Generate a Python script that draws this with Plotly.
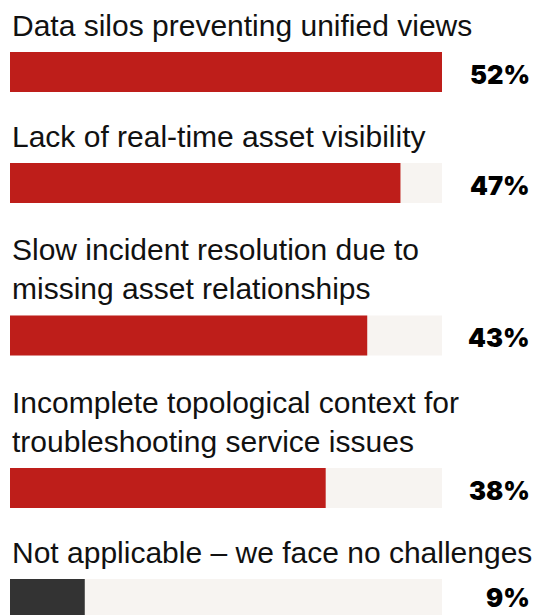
import plotly.graph_objects as go

# ---- data ----
label_lines = [
    ["Data silos preventing unified views"],
    ["Lack of real-time asset visibility"],
    ["Slow incident resolution due to", "missing asset relationships"],
    ["Incomplete topological context for", "troubleshooting service issues"],
    ["Not applicable \u2013 we face no challenges"],
]
values = [52, 47, 43, 38, 9]
value_labels = ["52%", "47%", "43%", "38%", "9%"]
bar_colors = ["#be1e1a", "#be1e1a", "#be1e1a", "#be1e1a", "#333333"]

# ---- layout constants (pixels) ----
W, H = 537, 615
X0, X1 = 10, 442          # bar track extent
BAR_H = 40
FIRST_TOP = 52            # top of first bar
ROW_PITCH = 111           # pitch for a one-line row
EXTRA_LINE = 41.5         # extra pitch per additional label line
LINE_H = 39               # label line spacing
BASE_GAP = 16.5           # label baseline to bar top
PCT_SIZE = 25.5
XMAX = max(values)

# compute vertical positions from number of label lines
bar_tops = [FIRST_TOP]
for lines in label_lines[1:]:
    bar_tops.append(bar_tops[-1] + ROW_PITCH + EXTRA_LINE * (len(lines) - 1))
centers = [t + BAR_H / 2 for t in bar_tops]

fig = go.Figure()
fig.add_trace(go.Bar(
    x=[XMAX] * len(values), y=centers, orientation="h", width=BAR_H,
    marker=dict(color="#f7f4f1", line=dict(width=0)), hoverinfo="skip",
))
fig.add_trace(go.Bar(
    x=values, y=centers, orientation="h", width=BAR_H,
    marker=dict(color=bar_colors, line=dict(width=0)),
))

annotations = []
for i, lines in enumerate(label_lines):
    n = len(lines)
    for k, line in enumerate(lines):
        baseline = bar_tops[i] - BASE_GAP - LINE_H * (n - 1 - k)
        annotations.append(dict(
            x=0, y=baseline - 10.5, xref="x", yref="y", text=line,
            showarrow=False, xanchor="left", yanchor="middle",
            font=dict(family="Liberation Sans, Arial, sans-serif", size=30, color="#111111"),
        ))
    # keep the value label inside the page at the bottom edge
    pct_y = min(centers[i] + 2, H - PCT_SIZE * 0.68)
    annotations.append(dict(
        x=531 / W, y=pct_y, xref="paper", yref="y", text=value_labels[i],
        showarrow=False, xanchor="right", yanchor="middle", borderpad=0,
        font=dict(family="Inter, DejaVu Sans, sans-serif", size=PCT_SIZE, color="#000000", weight=900),
    ))

fig.update_layout(
    width=W, height=H,
    margin=dict(l=0, r=0, t=0, b=0),
    paper_bgcolor="white", plot_bgcolor="white",
    barmode="overlay", showlegend=False,
    xaxis=dict(domain=[X0 / W, X1 / W], range=[0, XMAX], visible=False, fixedrange=True),
    yaxis=dict(range=[H, 0], visible=False, fixedrange=True),
    annotations=annotations,
)

fig.write_html("out.html", config={"displayModeBar": False},
               post_script="document.body.style.margin='0';document.body.style.overflow='hidden';")
